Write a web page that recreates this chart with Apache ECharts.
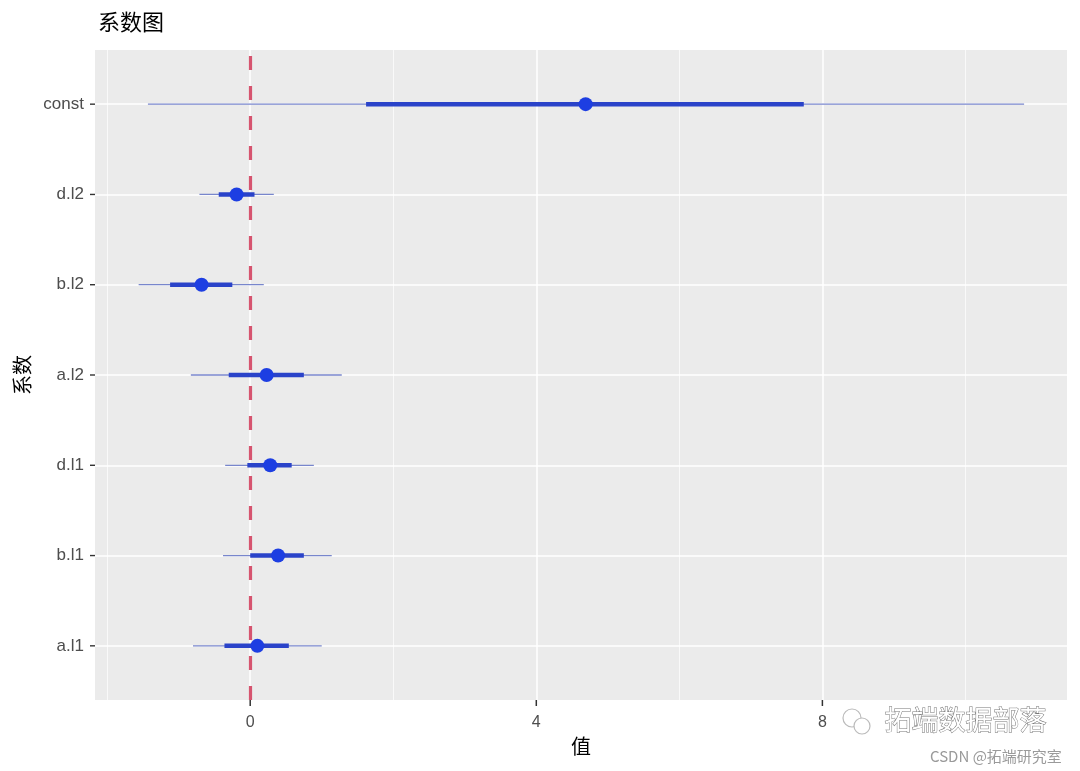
<!DOCTYPE html>
<html>
<head>
<meta charset="utf-8">
<script src="https://cdn.jsdelivr.net/npm/echarts@6/dist/echarts.min.js"></script>
<style>html,body{margin:0;padding:0;background:#fff}#c{width:1080px;height:771px}</style>
</head>
<body>
<div id="c"></div>
<script>
// categories, bottom to top
const categories = ['a.l1', 'b.l1', 'd.l1', 'a.l2', 'b.l2', 'd.l2', 'const'];
const estimate   = [0.10, 0.39, 0.28, 0.23, -0.68, -0.19, 4.69];
const innerLow   = [-0.36, 0.00, -0.04, -0.30, -1.12, -0.44, 1.62];
const innerHigh  = [0.54, 0.75, 0.58, 0.75, -0.25, 0.06, 7.74];
const outerLow   = [-0.80, -0.38, -0.35, -0.83, -1.56, -0.71, -1.43];
const outerHigh  = [1.00, 1.14, 0.89, 1.28, 0.19, 0.33, 10.82];
const xMajorTicks = [0, 4, 8];
const xMinorTicks = [-2, 2, 6, 10];
const yTicks = [1, 2, 3, 4, 5, 6, 7];

const data = categories.map((c, i) => [i + 1, outerLow[i], outerHigh[i], innerLow[i], innerHigh[i], estimate[i]]);

const chart = echarts.init(document.getElementById('c'));
const xMin = -2.17, xMax = 11.42, yMin = 0.4, yMax = 7.6;
const tickStyle = { stroke: '#333', lineWidth: 1.4 };
const watermark = [
  { type: 'circle', shape: { cx: 852, cy: 718, r: 9 }, style: { fill: 'none', stroke: '#bbb', lineWidth: 1.2 } },
  { type: 'circle', shape: { cx: 862, cy: 726, r: 8 }, style: { fill: '#fff', stroke: '#bbb', lineWidth: 1.2 } },
  { type: 'text', left: 884, top: 706, style: { text: '拓端数据部落', font: '27px "Noto Sans CJK SC"', fill: '#fff', stroke: '#777', lineWidth: 1 } },
  { type: 'text', left: 930, top: 749, style: { text: 'CSDN @拓端研究室', font: '15px "Noto Sans CJK SC"', fill: '#9a9a9a' } }
];
chart.setOption({
  animation: false,
  backgroundColor: '#ffffff',
  title: {
    text: '系数图', left: 93, top: 6,
    textStyle: { fontFamily: 'Noto Sans CJK SC', fontSize: 22, fontWeight: 'normal', color: '#000' }
  },
  grid: { left: 95, right: 13, top: 50, bottom: 71, show: true, backgroundColor: '#ebebeb', borderWidth: 0, outerBoundsMode: 'none', containLabel: false },
  xAxis: [{
    type: 'value', min: xMin, max: xMax,
    name: '值', nameLocation: 'middle', nameGap: 36,
    nameTextStyle: { fontFamily: 'Noto Sans CJK SC', fontSize: 20, color: '#000' },
    axisLine: { show: false },
    axisTick: { show: false, customValues: xMajorTicks },
    axisLabel: { customValues: xMajorTicks, color: '#4d4d4d', fontSize: 16, fontFamily: 'Liberation Sans', margin: 15 },
    splitLine: { show: true, lineStyle: { color: '#ffffff', width: 1.5 } }
  }, {
    type: 'value', min: xMin, max: xMax, position: 'bottom',
    axisLine: { show: false }, axisLabel: { show: false },
    axisTick: { show: false, customValues: xMinorTicks },
    splitLine: { show: true, lineStyle: { color: '#ffffff', width: 0.7 } }
  }],
  yAxis: {
    type: 'value', min: yMin, max: yMax,
    name: '系数', nameLocation: 'middle', nameGap: 63, nameRotate: 90,
    nameTextStyle: { fontFamily: 'Noto Sans CJK SC', fontSize: 20, color: '#000' },
    axisLine: { show: false },
    axisTick: { show: false, customValues: yTicks },
    axisLabel: {
      customValues: yTicks, color: '#4d4d4d', fontSize: 17, fontFamily: 'Liberation Sans', margin: 11,
      formatter: v => categories[Math.round(v) - 1] || ''
    },
    splitLine: { show: true, lineStyle: { color: '#ffffff', width: 1.5 } }
  },
  series: [{
    type: 'line', data: [], z: 2,
    markLine: {
      silent: true, symbol: ['none', 'none'], label: { show: false },
      lineStyle: { color: '#d6546f', width: 3.2, type: [14, 16], opacity: 1 },
      data: [{ xAxis: 0 }]
    }
  }, {
    type: 'custom', z: 5, clip: false,
    data: data,
    encode: { x: [1, 2, 3, 4, 5], y: 0 },
    renderItem: function (params, api) {
      const y = api.value(0);
      const t = api.coord([xMin, y]);
      const o1 = api.coord([api.value(1), y]);
      const o2 = api.coord([api.value(2), y]);
      const i1 = api.coord([api.value(3), y]);
      const i2 = api.coord([api.value(4), y]);
      const p = api.coord([api.value(5), y]);
      return {
        type: 'group',
        children: [
          { type: 'line', shape: { x1: t[0] - 5, y1: t[1], x2: t[0], y2: t[1] }, style: tickStyle },
          { type: 'line', shape: { x1: o1[0], y1: o1[1], x2: o2[0], y2: o2[1] }, style: { stroke: '#7886cc', lineWidth: 1.3 } },
          { type: 'line', shape: { x1: i1[0], y1: i1[1], x2: i2[0], y2: i2[1] }, style: { stroke: '#2a43c9', lineWidth: 4.5 } },
          { type: 'circle', shape: { cx: p[0], cy: p[1], r: 7 }, style: { fill: '#1d3ee2' } }
        ]
      };
    }
  }],
  graphic: watermark
});

// x-axis tick marks placed through the grid's coordinate system
const xTickMarks = xMajorTicks.map(v => {
  const pt = chart.convertToPixel({ gridIndex: 0 }, [v, yMin]);
  return {
    type: 'line', z: 1000,
    shape: { x1: pt[0], y1: pt[1], x2: pt[0], y2: pt[1] + 6 },
    style: { stroke: '#333', lineWidth: 1.5 }
  };
});
chart.setOption({ graphic: watermark.concat(xTickMarks) });
</script>
</body>
</html>
